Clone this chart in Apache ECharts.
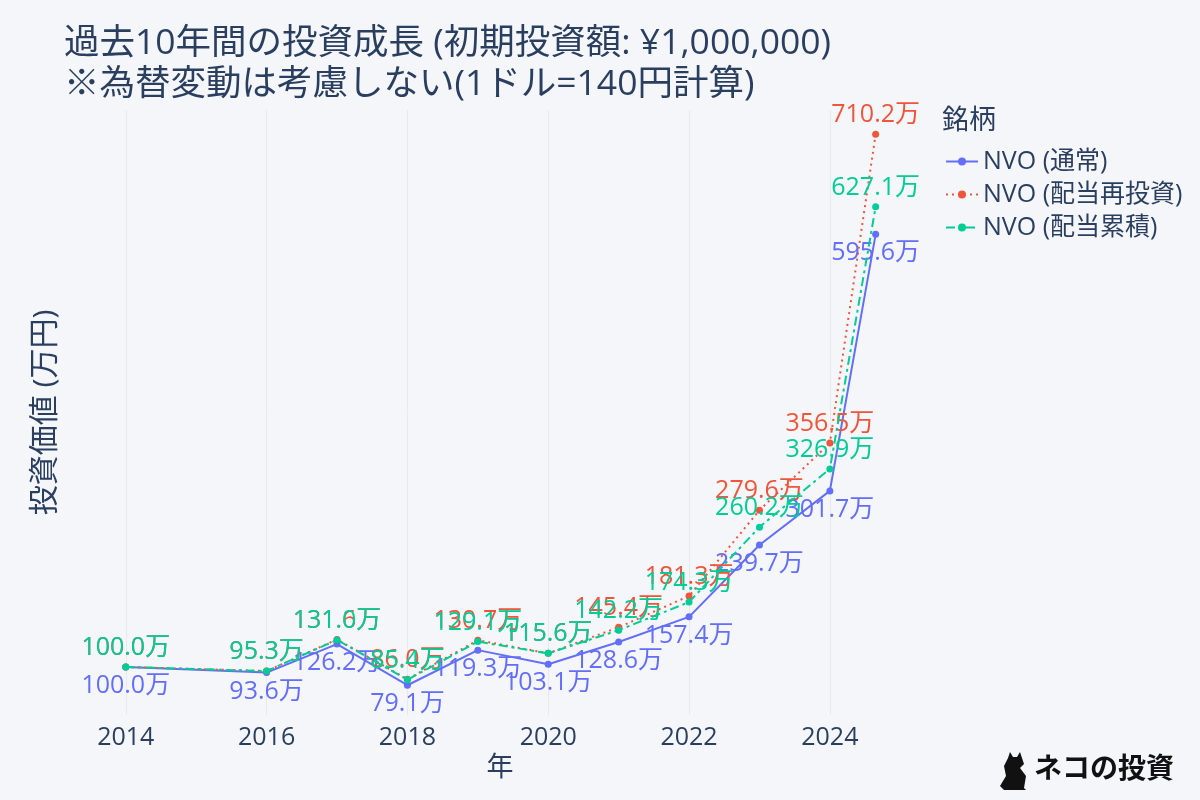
<!DOCTYPE html>
<html><head><meta charset="utf-8">
<script src="https://cdn.jsdelivr.net/npm/echarts@6/dist/echarts.min.js"></script>
<style>html,body{margin:0;padding:0;background:#f5f6fa}#c{width:1200px;height:800px}</style>
</head><body><div id="c"></div>
<script>
// x positions as decimal years (last point ≈ late Aug 2024)
const years = [2014, 2016, 2017, 2018, 2019, 2020, 2021, 2022, 2023, 2024, 2024.65];
const normal = [100.0, 93.6, 126.2, 79.1, 119.3, 103.1, 128.6, 157.4, 239.7, 301.7, 595.6];
const reinvest = [100.0, 95.3, 131.6, 86.0, 130.7, 115.6, 145.4, 181.3, 279.6, 356.5, 710.2];
const accum = [100.0, 95.3, 131.0, 85.4, 129.1, 115.6, 142.2, 174.3, 260.2, 326.9, 627.1];
const tickYears = [2014, 2016, 2018, 2020, 2022, 2024];
const seriesNames = ['NVO (通常)', 'NVO (配当再投資)', 'NVO (配当累積)'];
const colors = ['#636efa', '#EF553B', '#00cc96'];

const FONT = '"Open Sans", "Noto Sans CJK JP", sans-serif';
const pair = arr => arr.map((v, i) => [years[i], v]);
const fmt = p => p.value[1].toFixed(1) + '万';

function mk(name, data, color, dash, pos, z) {
  return {
    name, type: 'line', data: pair(data), z,
    symbol: 'circle', symbolSize: 7,
    itemStyle: { color },
    lineStyle: { color, width: 2, type: dash },
    label: { show: true, position: pos, distance: 3, formatter: fmt, color, fontSize: 25, fontFamily: FONT },
    emphasis: { disabled: true }, animation: false
  };
}

const chart = echarts.init(document.getElementById('c'));
chart.setOption({
  backgroundColor: '#f5f6fa',
  animation: false,
  color: colors,
  title: {
    text: '過去10年間の投資成長 (初期投資額: ¥1,000,000)\n※為替変動は考慮しない(1ドル=140円計算)',
    left: 59, top: 18,
    textStyle: { color: '#2a3f5f', fontSize: 35.5, fontWeight: 'normal', fontFamily: FONT, lineHeight: 41 }
  },
  grid: { left: 80, right: 280, top: 110, bottom: 85 },
  xAxis: {
    type: 'value', min: 2013.35, max: 2025.28,
    name: '年', nameLocation: 'middle', nameGap: 40,
    nameTextStyle: { color: '#2a3f5f', fontSize: 27, fontFamily: FONT },
    axisLine: { show: false }, axisTick: { show: false, customValues: tickYears },
    axisLabel: { customValues: tickYears, color: '#2a3f5f', fontSize: 25, fontFamily: FONT, margin: 10, formatter: v => String(v) },
    splitLine: { show: true, lineStyle: { color: '#e6e9f0', width: 1 } }
  },
  yAxis: {
    type: 'value', min: 45, max: 738,
    name: '投資価値 (万円)', nameLocation: 'middle', nameGap: 20,
    nameTextStyle: { color: '#2a3f5f', fontSize: 30, fontFamily: FONT },
    axisLine: { show: false }, axisTick: { show: false }, axisLabel: { show: false },
    splitLine: { show: false }
  },
  legend: {
    orient: 'vertical', left: 940, top: 144,
    itemWidth: 32, itemHeight: 10, itemGap: 8,
    data: seriesNames,
    textStyle: { color: '#2a3f5f', fontSize: 25, fontFamily: FONT }
  },
  series: [
    mk(seriesNames[0], normal, colors[0], 'solid', 'bottom', 2),
    mk(seriesNames[1], reinvest, colors[1], [2, 4], 'top', 3),
    mk(seriesNames[2], accum, colors[2], [9, 4, 3, 4], 'top', 4)
  ],
  graphic: [
    { type: 'text', left: 942, top: 108, style: { text: '銘柄', fill: '#2a3f5f', fontSize: 27, fontFamily: FONT } },
    { type: 'polygon', shape: { points: [[1008,758],[1010,752],[1013,757],[1017,757],[1020,752],[1022,758],[1024,764],[1020,768],[1026,776],[1024,788],[1026,790],[1004,790],[1000,786],[1006,776],[1004,766]] }, style: { fill: '#111' } },
    { type: 'text', left: 1034, top: 756, style: { text: 'ネコの投資', fill: '#111', fontSize: 28, fontWeight: 'bold', fontFamily: FONT } }
  ]
});
</script></body></html>
